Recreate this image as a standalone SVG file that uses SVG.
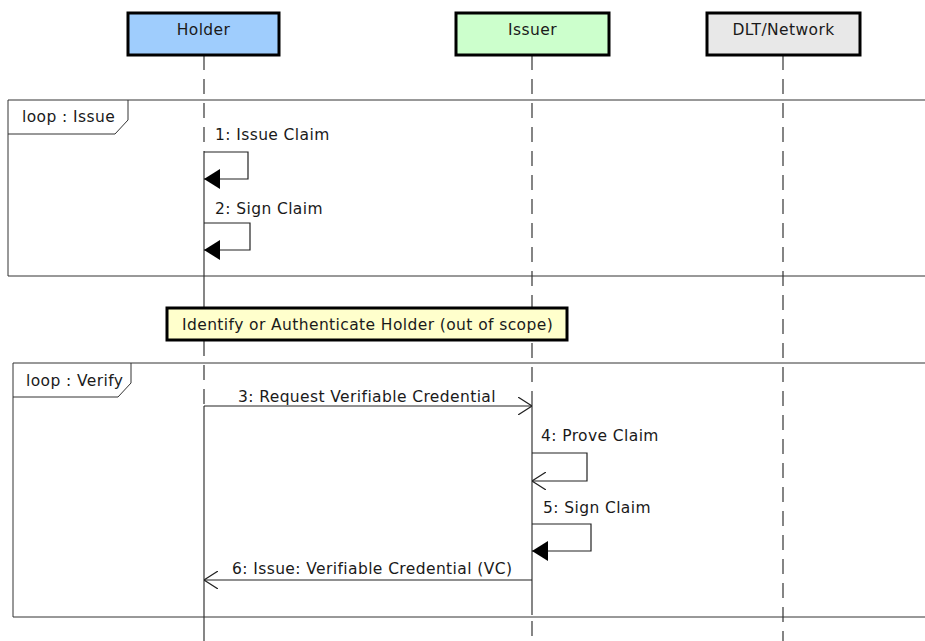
<svg xmlns="http://www.w3.org/2000/svg" width="925" height="641" viewBox="0 0 925 641">
<style>
text{font-family:"DejaVu Sans","Liberation Sans",sans-serif;font-size:15.5px;letter-spacing:0.4px;fill:#1a1a1a}
.box{stroke:#000;stroke-width:3}
.life{stroke:#444;stroke-width:1.3;fill:none}
.dash{stroke-dasharray:15 9}
.frame{fill:none;stroke:#333;stroke-width:1}
.msg{fill:none;stroke:#222;stroke-width:1.2}
</style>
<defs>
<marker id="filled" markerWidth="16" markerHeight="20" refX="16" refY="10" orient="auto" markerUnits="userSpaceOnUse" viewBox="0 0 16 20">
<path d="M0,0 L16,10 L0,20 Z" fill="#000"/>
</marker>
<marker id="open" markerWidth="14" markerHeight="18" refX="14" refY="9" orient="auto" markerUnits="userSpaceOnUse" viewBox="0 0 14 18">
<path d="M0,0 L14,9 L0,18" fill="none" stroke="#222" stroke-width="1.2"/>
</marker>
</defs>
<rect width="925" height="641" fill="#fff"/>
<g id="lifelines">
<line class="life dash" x1="204" y1="55" x2="204" y2="152"/>
<line class="life" x1="204" y1="152" x2="204" y2="308"/>
<line class="life dash" x1="204" y1="341" x2="204" y2="406"/>
<line class="life" x1="204" y1="406" x2="204" y2="641"/>
<line class="life dash" x1="532" y1="55" x2="532" y2="406"/>
<line class="life" x1="532" y1="406" x2="532" y2="615"/>
<line class="life dash" x1="532" y1="621" x2="532" y2="641"/>
<line class="life dash" x1="783" y1="55" x2="783" y2="641"/>
</g>
<g id="frame-issue">
<path class="frame" d="M925,100 H8 V276 H925"/>
<path class="frame" d="M8,134 H115 L128,120 V100"/>
<text x="22" y="122">loop : Issue</text>
</g>
<g id="frame-verify">
<path class="frame" d="M925,363 H13 V617 H925"/>
<path class="frame" d="M13,397 H118 L131,383 V363"/>
<text x="26" y="386">loop : Verify</text>
</g>
<g id="holder">
<rect class="box" x="128" y="13" width="151" height="42" fill="#9fcdfd"/>
<text x="203.5" y="35" text-anchor="middle">Holder</text>
</g>
<g id="issuer">
<rect class="box" x="456" y="13" width="153" height="42" fill="#ccffcc"/>
<text x="532.5" y="35" text-anchor="middle">Issuer</text>
</g>
<g id="dlt">
<rect class="box" x="707" y="13" width="153" height="42" fill="#e8e8e8"/>
<text x="783.5" y="35" text-anchor="middle">DLT/Network</text>
</g>
<g id="note">
<rect class="box" x="167" y="308" width="400" height="32" fill="#ffffcc"/>
<text x="182" y="330">Identify or Authenticate Holder (out of scope)</text>
</g>
<g id="connectors">
<path class="msg" d="M204,152 H248 V179 H204" marker-end="url(#filled)"/>
<text x="215" y="140">1: Issue Claim</text>
<path class="msg" d="M204,223 H250 V250 H204" marker-end="url(#filled)"/>
<text x="215" y="214">2: Sign Claim</text>
<line class="msg" x1="204" y1="406" x2="532" y2="406" marker-end="url(#open)"/>
<text x="367" y="402" text-anchor="middle">3: Request Verifiable Credential</text>
<path class="msg" d="M532,453 H587 V481 H532" marker-end="url(#open)"/>
<text x="541" y="441">4: Prove Claim</text>
<path class="msg" d="M532,524 H591 V551 H532" marker-end="url(#filled)"/>
<text x="543" y="513">5: Sign Claim</text>
<line class="msg" x1="532" y1="580" x2="204" y2="580" marker-end="url(#open)"/>
<text x="232" y="574">6: Issue: Verifiable Credential (VC)</text>
</g>
</svg>
